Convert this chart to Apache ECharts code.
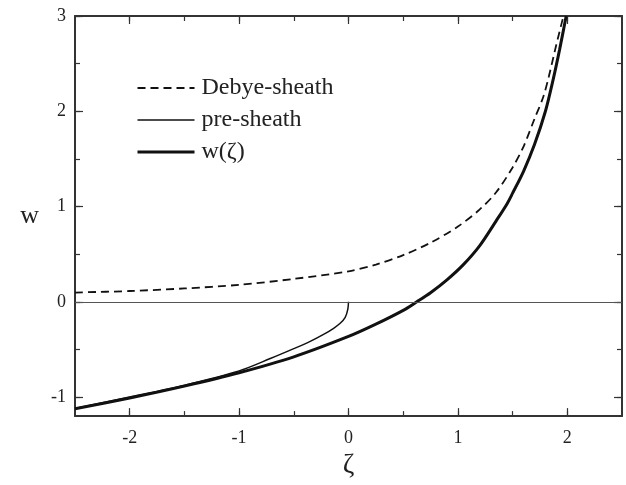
<!DOCTYPE html>
<html>
<head>
<meta charset="utf-8">
<script src="https://cdn.jsdelivr.net/npm/echarts@6/dist/echarts.min.js"></script>
<style>
html,body{margin:0;padding:0;background:#fff;}
#chart{width:626px;height:485px;}
</style>
</head>
<body>
<div id="chart"></div>
<script>
// ---- data ----
const seriesNames = ['Debye-sheath', 'pre-sheath', 'w(\u03B6)'];

const debyeX = [-2.5, -2.0, -1.5, -1.0, -0.5, 0, 0.25, 0.5, 0.75, 1.0, 1.2, 1.35, 1.5, 1.6, 1.7, 1.78, 1.83, 1.9, 1.965];
const debyeY = [0.097, 0.113, 0.14, 0.178, 0.24, 0.32, 0.39, 0.49, 0.62, 0.79, 0.97, 1.15, 1.41, 1.63, 1.92, 2.15, 2.36, 2.70, 3.0];

const preX = [-2.5, -2.0, -1.5, -1.0, -0.715, -0.5, -0.35, -0.228, -0.136, -0.076, -0.03, -0.006, 0];
const preY = [-1.12, -1.0, -0.875, -0.725, -0.596, -0.492, -0.416, -0.343, -0.278, -0.226, -0.164, -0.077, 0];

const wX = [-2.5, -2.0, -1.5, -1.0, -0.5, 0, 0.25, 0.5, 0.625, 0.75, 0.9, 1.05, 1.2, 1.35, 1.45, 1.5, 1.6, 1.7, 1.8, 1.87, 1.93, 1.99];
const wY = [-1.123, -1.01, -0.885, -0.745, -0.578, -0.364, -0.235, -0.09, 0, 0.095, 0.23, 0.39, 0.59, 0.85, 1.03, 1.14, 1.37, 1.65, 2.0, 2.33, 2.65, 3.0];

const xMajor = [-2, -1, 0, 1, 2];
const xMinor = [-2, -1.5, -1, -0.5, 0, 0.5, 1, 1.5, 2];
const yMajor = [-1, 0, 1, 2, 3];
const yMinor = [-1, -0.5, 0, 0.5, 1, 1.5, 2, 2.5, 3];

const xMin = -2.5, xMax = 2.5, yMin = -1.2, yMax = 3;

// ---- build ----
const zip = (xs, ys) => xs.map((x, i) => [x, ys[i]]);
const FONT = "'Liberation Serif', 'Times New Roman', serif";
const AX = '#333';
const widths = [1.8, 1.5, 3];
const dashes = [[8, 5], 'solid', 'solid'];

function xAx(pos, ticks, len, labels, lineShow) {
  return {
    type: 'value', position: pos, min: xMin, max: xMax,
    axisLine: { show: lineShow, onZero: false, lineStyle: { color: AX, width: 2 } },
    axisTick: { show: true, inside: true, length: len, customValues: ticks, lineStyle: { color: AX, width: 1.2 } },
    axisLabel: labels ? { show: true, customValues: xMajor, formatter: v => String(v), fontFamily: FONT, fontSize: 18, color: '#222', margin: 13 } : { show: false },
    splitLine: { show: false }
  };
}
function yAx(pos, ticks, len, labels, lineShow) {
  return {
    type: 'value', position: pos, min: yMin, max: yMax,
    axisLine: { show: lineShow, onZero: false, lineStyle: { color: AX, width: 2 } },
    axisTick: { show: true, inside: true, length: len, customValues: ticks, lineStyle: { color: AX, width: 1.2 } },
    axisLabel: labels ? { show: true, customValues: yMajor, formatter: v => String(v), fontFamily: FONT, fontSize: 18, color: '#222', margin: 9 } : { show: false },
    splitLine: { show: false }
  };
}

const xAxes = [
  xAx('bottom', xMajor, 8, true, true),
  xAx('bottom', xMinor, 5, false, false),
  xAx('top', xMajor, 8, false, true),
  xAx('top', xMinor, 5, false, false)
];
Object.assign(xAxes[0], { name: '\u03B6', nameLocation: 'middle', nameGap: 31, nameTextStyle: { fontFamily: FONT, fontSize: 28, color: '#222' } });

const yAxes = [
  yAx('left', yMajor, 8, true, true),
  yAx('left', yMinor, 5, false, false),
  yAx('right', yMajor, 8, false, true),
  yAx('right', yMinor, 5, false, false)
];
Object.assign(yAxes[0], { name: 'w', nameLocation: 'middle', nameGap: 36, nameRotate: 0, nameTextStyle: { fontFamily: FONT, fontSize: 26, color: '#222' } });

const chart = echarts.init(document.getElementById('chart'), null, { renderer: 'canvas' });
chart.setOption({
  animation: false,
  backgroundColor: '#fff',
  grid: { left: 75, top: 16, width: 547, height: 405, containLabel: false },
  legend: {
    orient: 'vertical', left: 136, top: 76, padding: 0,
    itemWidth: 57, itemHeight: 14, itemGap: 8,
    itemStyle: { opacity: 0, color: 'rgba(0,0,0,0)', borderWidth: 0 },
    textStyle: { fontFamily: FONT, fontSize: 24, color: '#222', padding: [0, 0, 0, 2] },
    data: seriesNames.map((n, i) => ({ name: n, lineStyle: { width: widths[i], type: dashes[i], color: '#111' } }))
  },
  xAxis: xAxes,
  yAxis: yAxes,
  series: [
    {
      name: seriesNames[0], type: 'line', data: zip(debyeX, debyeY),
      showSymbol: false, symbol: 'none', smooth: 0.3, clip: true,
      lineStyle: { color: '#111', width: widths[0], type: dashes[0] },
      itemStyle: { color: '#111' },
      markLine: {
        silent: true, symbol: 'none', label: { show: false },
        lineStyle: { color: '#555', width: 1.2, type: 'solid' },
        data: [{ yAxis: 0 }]
      }
    },
    {
      name: seriesNames[1], type: 'line', data: zip(preX, preY),
      showSymbol: false, symbol: 'none', smooth: 0.3,
      lineStyle: { color: '#111', width: widths[1] },
      itemStyle: { color: '#111' }
    },
    {
      name: seriesNames[2], type: 'line', data: zip(wX, wY),
      showSymbol: false, symbol: 'none', smooth: 0.3,
      lineStyle: { color: '#111', width: widths[2] },
      itemStyle: { color: '#111' }
    }
  ]
});
</script>
</body>
</html>
